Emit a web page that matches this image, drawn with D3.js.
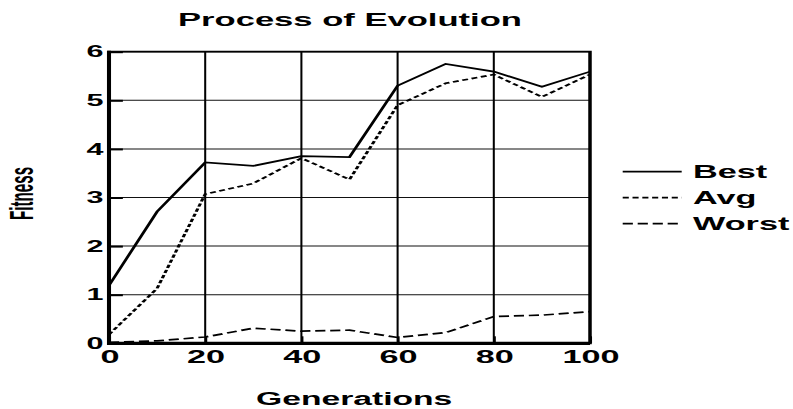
<!DOCTYPE html>
<html>
<head>
<meta charset="utf-8">
<script src="https://cdn.jsdelivr.net/npm/d3@7/dist/d3.min.js"></script>
<style>
  html, body { margin: 0; padding: 0; background: #fff; }
  svg { display: block; }
  text { font-family: "Liberation Sans", Arial, Helvetica, sans-serif; font-weight: bold; fill: #000; }
</style>
</head>
<body>
<svg id="chart" width="793" height="409"></svg>
<script>
// Fitness per generation for the best, average and worst individual
const generations = [0, 10, 20, 30, 40, 50, 60, 70, 80, 90, 100];
const bestFitness  = [1.19, 2.71, 3.72, 3.65, 3.85, 3.83, 5.30, 5.75, 5.59, 5.28, 5.59];
const avgFitness   = [0.18, 1.13, 3.07, 3.29, 3.81, 3.37, 4.90, 5.35, 5.53, 5.07, 5.53];
const worstFitness = [0.02, 0.05, 0.13, 0.31, 0.25, 0.27, 0.12, 0.22, 0.55, 0.58, 0.65];

const seriesNames = ["Best", "Avg", "Worst"];
const xTicks = [0, 20, 40, 60, 80, 100];
const yTicks = [0, 1, 2, 3, 4, 5, 6];

const chartTitle = "Process of Evolution";
const xTitle = "Generations";
const yTitle = "Fitness";

// The drawing is laid out on a horizontally widened canvas
const SX = 1.85;
const plot = { left: 109, right: 590, top: 51.7, bottom: 343.3 };

const svg = d3.select("#chart");
const root = svg.append("g").attr("transform", `scale(${SX},1)`);

const x = d3.scaleLinear().domain([0, 100]).range([plot.left / SX, plot.right / SX]);
const y = d3.scaleLinear().domain([0, 6]).range([plot.bottom, plot.top]);

// grid
const grid = root.append("g");
grid.selectAll("line.h").data(yTicks.filter(d => d > 0 && d < 6)).join("line")
  .attr("x1", x(0)).attr("x2", x(100))
  .attr("y1", d => y(d)).attr("y2", d => y(d))
  .attr("stroke", "#111").attr("stroke-width", 1);
grid.selectAll("line.v").data(xTicks.filter(d => d > 0 && d < 100)).join("line")
  .attr("x1", d => x(d)).attr("x2", d => x(d))
  .attr("y1", y(0)).attr("y2", y(6))
  .attr("stroke", "#000").attr("stroke-width", 1.1);

// series
const series = [
  { name: seriesNames[0], values: bestFitness,  dash: null },
  { name: seriesNames[1], values: avgFitness,   dash: "3.3,2" },
  { name: seriesNames[2], values: worstFitness, dash: "5.5,2.6" }
];
const line = d3.line().x((d, i) => x(generations[i])).y(d => y(d));
root.append("g").selectAll("path").data(series).join("path")
  .attr("d", d => line(d.values))
  .attr("fill", "none")
  .attr("stroke", "#000")
  .attr("stroke-width", 1.7)
  .attr("stroke-linejoin", "miter")
  .attr("stroke-dasharray", d => d.dash);

// axes with inward ticks
const yAxis = root.append("g").attr("transform", `translate(${x(0)},0)`)
  .call(d3.axisLeft(y).tickValues(yTicks).tickFormat(d3.format("d"))
    .tickSizeInner(-7.5).tickSizeOuter(0).tickPadding(3));
yAxis.select(".domain").remove();
yAxis.selectAll(".tick line").attr("stroke", "#000").attr("stroke-width", 2);
yAxis.selectAll(".tick text").attr("font-size", 16.5).attr("font-family", null);

const xAxis = root.append("g").attr("transform", `translate(0,${y(0)})`)
  .call(d3.axisBottom(x).tickValues(xTicks).tickFormat(d3.format("d"))
    .tickSizeInner(-7).tickSizeOuter(0).tickPadding(7));
xAxis.select(".domain").remove();
xAxis.selectAll(".tick line").attr("stroke", "#000").attr("stroke-width", 1.2);
xAxis.selectAll(".tick text").attr("font-size", 18.5).attr("font-family", null);

// frame
root.append("rect")
  .attr("x", x(0)).attr("y", y(6))
  .attr("width", x(100) - x(0)).attr("height", y(0) - y(6))
  .attr("fill", "none").attr("stroke", "#000").attr("stroke-width", 1.9);
root.append("line")
  .attr("x1", x(0)).attr("x2", x(100)).attr("y1", y(0)).attr("y2", y(0))
  .attr("stroke", "#000").attr("stroke-width", 3.2);
root.append("line")
  .attr("x1", x(0)).attr("x2", x(0)).attr("y1", y(6) - 1).attr("y2", y(0) + 1.6)
  .attr("stroke", "#000").attr("stroke-width", 2.2);

// titles
root.append("text")
  .attr("x", 350 / SX).attr("y", 25.7)
  .attr("text-anchor", "middle").attr("font-size", 18.7)
  .text(chartTitle);
root.append("text")
  .attr("x", 256 / SX).attr("y", 405)
  .attr("text-anchor", "start").attr("font-size", 18.2)
  .text(xTitle);
root.append("text")
  .attr("transform", `translate(${33 / SX},193.4) rotate(-90)`)
  .attr("text-anchor", "middle").attr("font-size", 17.8)
  .attr("textLength", 53).attr("lengthAdjust", "spacingAndGlyphs")
  .text(yTitle);

// legend
const legendBaselines = [178.5, 204.5, 230.5];
const legend = root.append("g").selectAll("g").data(series).join("g");
legend.append("line")
  .attr("x1", 622.7 / SX).attr("x2", 681.7 / SX)
  .attr("y1", (d, i) => legendBaselines[i] - 6.8)
  .attr("y2", (d, i) => legendBaselines[i] - 6.8)
  .attr("stroke", "#000").attr("stroke-width", 1.7)
  .attr("stroke-dasharray", d => d.dash);
legend.append("text")
  .attr("x", 693 / SX)
  .attr("y", (d, i) => legendBaselines[i])
  .attr("font-size", 18.5)
  .text(d => d.name);
</script>
</body>
</html>
